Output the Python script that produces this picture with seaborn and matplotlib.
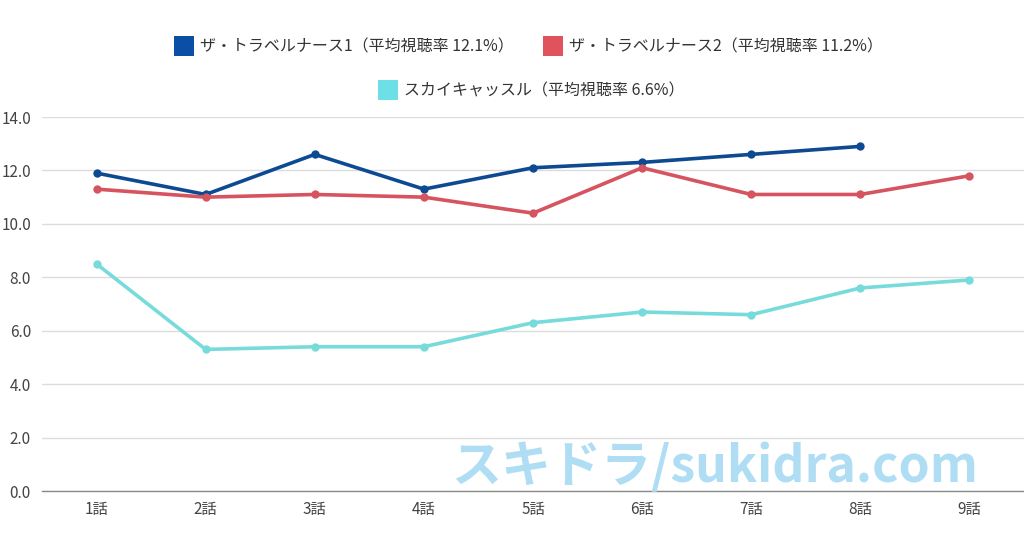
import matplotlib
matplotlib.use("Agg")
import matplotlib.pyplot as plt
import seaborn as sns
import pandas as pd
from matplotlib.lines import Line2D

episodes = ["1話", "2話", "3話", "4話", "5話", "6話", "7話", "8話", "9話"]
nurse1 = [11.9, 11.1, 12.6, 11.3, 12.1, 12.3, 12.6, 12.9]
nurse2 = [11.3, 11.0, 11.1, 11.0, 10.4, 12.1, 11.1, 11.1, 11.8]
sky = [8.5, 5.3, 5.4, 5.4, 6.3, 6.7, 6.6, 7.6, 7.9]
series_names = ["ザ・トラベルナース1（平均視聴率 12.1%）",
                "ザ・トラベルナース2（平均視聴率 11.2%）",
                "スカイキャッスル（平均視聴率 6.6%）"]
yticks = [0, 2, 4, 6, 8, 10, 12, 14]

line_colors = ["#0d4a92", "#d6545f", "#78dbdb"]
legend_colors = ["#0b4ea6", "#e0525c", "#6ce0e6"]

rows = []
for name, vals in zip(series_names, [nurse1, nurse2, sky]):
    for ep, v in zip(episodes, vals):
        rows.append({"episode": ep, "rating": v, "series": name})
df = pd.DataFrame(rows)
df["episode"] = pd.Categorical(df["episode"], categories=episodes, ordered=True)

sns.set_theme(style="white")
plt.rcParams['font.family'] = ['Noto Sans CJK JP', 'DejaVu Sans']

fig = plt.figure(figsize=(10.24, 5.38), dpi=100)
ax = fig.add_axes([42/1024, 47/538, 1 - 42/1024, (491-117)/538])

x_pos = {e: i for i, e in enumerate(episodes)}
df["x"] = df["episode"].map(x_pos).astype(float)

sns.lineplot(data=df, x="x", y="rating", hue="series", hue_order=series_names,
             palette=dict(zip(series_names, line_colors)), marker="o",
             markersize=6, markeredgewidth=0, linewidth=2.6, ax=ax,
             legend=False, sort=False)

ax.set_xlim(-0.5, len(episodes) - 0.5)
ax.set_ylim(0, 14)
ax.set_xticks(range(len(episodes)))
ax.set_xticklabels(episodes)
ax.set_yticks(yticks)
ax.set_yticklabels([f"{t:.1f}" for t in yticks])
ax.set_xlabel("")
ax.set_ylabel("")
ax.grid(axis="y", color="#dcdcdc", linewidth=1)
ax.set_axisbelow(True)
for s in ["top", "right", "left"]:
    ax.spines[s].set_visible(False)
ax.spines["bottom"].set_color("#8a8a8a")
ax.spines["bottom"].set_linewidth(1)
ax.tick_params(axis="both", length=0, labelsize=11, labelcolor="#444444")
ax.tick_params(axis="x", pad=7)
ax.tick_params(axis="y", pad=8)

handles = [Line2D([], [], marker="s", linestyle="none", markersize=14,
                  markerfacecolor=c, markeredgewidth=0) for c in legend_colors]
leg1 = fig.legend(handles[:2], series_names[:2], loc="center", ncol=2,
                  bbox_to_anchor=(0.517, 1 - 47/538), frameon=False,
                  fontsize=11.5, handletextpad=0.5, columnspacing=2.0,
                  handlelength=1.0)
for t in leg1.get_texts():
    t.set_color("#333333")
leg2 = fig.legend(handles[2:], series_names[2:], loc="center",
                  bbox_to_anchor=(0.52, 1 - 91/538), frameon=False,
                  fontsize=11.5, handletextpad=0.5, handlelength=1.0)
for t in leg2.get_texts():
    t.set_color("#333333")

fig.text(715/1024, 1 - 468/538, "スキドラ/sukidra.com", ha="center", va="center",
         fontsize=36, fontweight="bold", color="#a6daf3", alpha=0.9, zorder=10)

fig.savefig("out.png", dpi=100)
